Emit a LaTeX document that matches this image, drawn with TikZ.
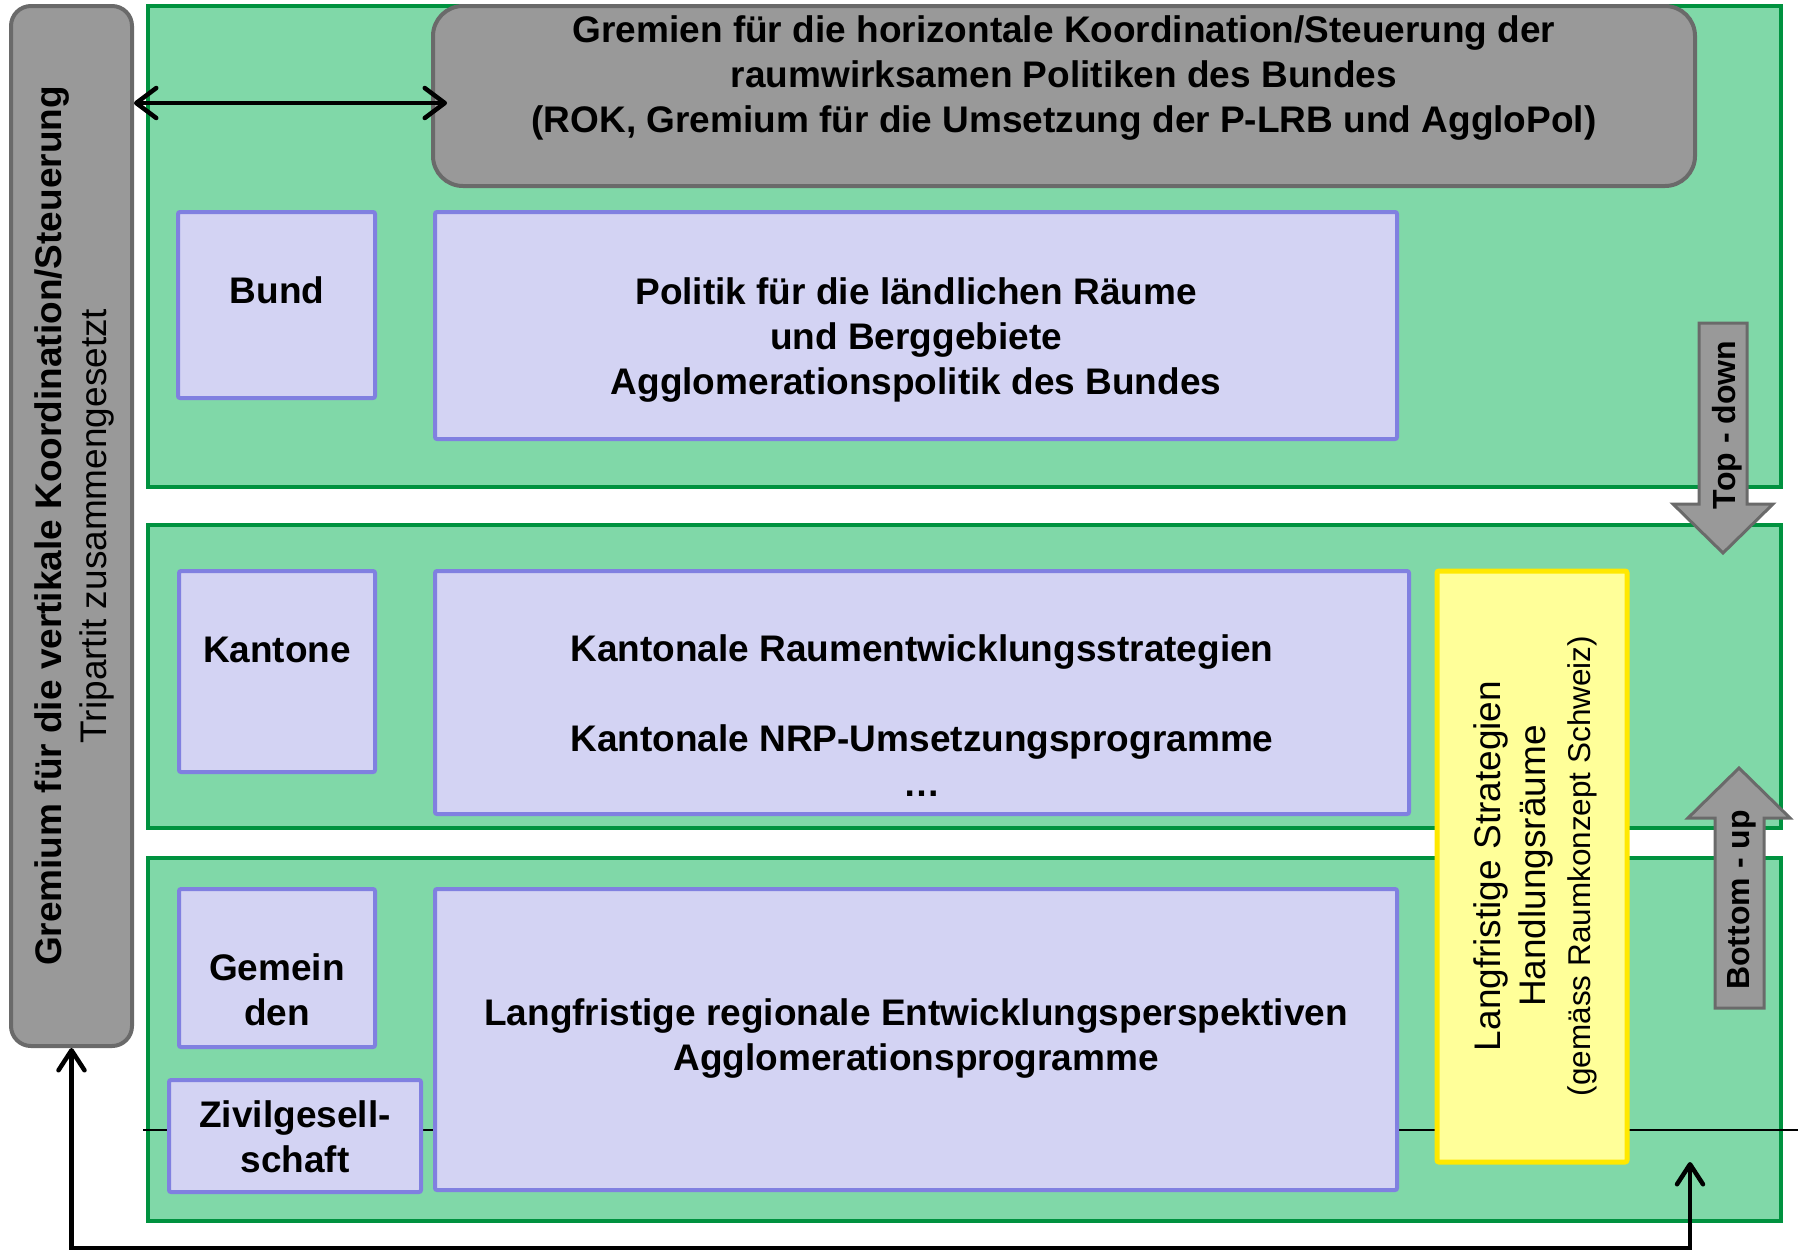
\documentclass[tikz,border=0pt]{standalone}
\usepackage{fontspec}
\setmainfont{Liberation Sans}
\usetikzlibrary{arrows.meta,calc}
\definecolor{gfill}{HTML}{80D8A8}
\definecolor{gline}{HTML}{00923F}
\definecolor{bfill}{HTML}{D3D3F3}
\definecolor{bline}{HTML}{8080E0}
\definecolor{grfill}{HTML}{999999}
\definecolor{grline}{HTML}{6A6A6A}
\definecolor{yfill}{HTML}{FFFF99}
\definecolor{yline}{HTML}{FFE800}
\definecolor{thin}{HTML}{1E6E3C}
\begin{document}
\begin{tikzpicture}[x=1pt,y=-1pt,
  greenbox/.style={draw=gline,fill=gfill,line width=3.5pt,inner sep=0pt},
  bluebox/.style={draw=bline,fill=bfill,line width=4pt,inner sep=0pt,rounded corners=2pt},
  graybox/.style={draw=grline,fill=grfill,line width=4pt,inner sep=0pt},
  yellowbox/.style={draw=yline,fill=yfill,line width=5pt,inner sep=0pt,rounded corners=2pt},
  bigarrow/.style={draw=grline,fill=grfill,line width=3pt,line join=miter},
  txt/.style={font=\fontsize{37}{45}\selectfont\bfseries,align=center,inner sep=0pt},
  rtxt/.style={font=\fontsize{37}{45}\selectfont,align=center,inner sep=0pt},
  atxt/.style={font=\fontsize{32}{38}\selectfont\bfseries,inner sep=0pt},
  conn/.style={line width=4.5pt,black}
]
\useasboundingbox (0,0) rectangle (1798,1251);
% green layers
\node[greenbox,minimum width=1633pt,minimum height=481pt] (g1) at (964.5,246.5) {};
\node[greenbox,minimum width=1633pt,minimum height=303pt] (g2) at (964.5,676.5) {};
\node[greenbox,minimum width=1633pt,minimum height=363pt] (g3) at (964.5,1039.5) {};
% thin horizontal line
\draw[thin,line width=1.5pt] (143,1130) -- (1798,1130);
% left gray box
\node[graybox,rounded corners=20pt,minimum width=121pt,minimum height=1040pt] (lgray) at (71.5,526) {};
\node[rtxt,rotate=90] (lgtext) at (74.5,526) {\bfseries Gremium für die vertikale Koordination/Steuerung\\\mdseries Tripartit zusammengesetzt};
% top gray box
\node[graybox,rounded corners=30pt,minimum width=1262pt,minimum height=180pt] (tgray) at (1064,96) {};
\node[txt] (tgtext) at (1064,78) {Gremien für die horizontale Koordination/Steuerung der\\raumwirksamen Politiken des Bundes\\(ROK, Gremium für die Umsetzung der P-LRB und AggloPol)};
% Bund row
\node[bluebox,minimum width=197pt,minimum height=186pt] (bund) at (276.5,305) {};
\node[txt] (bundt) at (277,290) {Bund};
\node[bluebox,minimum width=962pt,minimum height=227pt] (politik) at (916,325.5) {};
\node[txt] (politikt) at (916,340) {Politik für die ländlichen Räume\\und Berggebiete\\Agglomerationspolitik des Bundes};
% Kantone row
\node[bluebox,minimum width=196pt,minimum height=201pt] (kantone) at (277,671.5) {};
\node[txt] (kantonet) at (277,649.5) {Kantone};
\node[bluebox,minimum width=974pt,minimum height=243pt] (kant) at (922,692.5) {};
\node[txt] (kantt) at (922,716) {Kantonale Raumentwicklungsstrategien\\[45pt]Kantonale NRP-Umsetzungsprogramme\\…};
% Gemeinden row
\node[bluebox,minimum width=196pt,minimum height=158pt] (gem) at (277,968) {};
\node[txt] (gemt) at (277,989.5) {Gemein\\den};
\node[bluebox,minimum width=252pt,minimum height=112pt] (zivil) at (295,1136) {};
\node[txt] (zivilt) at (295,1136.5) {Zivilgesell-\\schaft};
\node[bluebox,minimum width=962pt,minimum height=301pt] (big3) at (916,1039.5) {};
\node[txt] (big3t) at (916,1038) {Langfristige regionale Entwicklungsperspektiven\\Agglomerationsprogramme};
% yellow box
\node[yellowbox,minimum width=190pt,minimum height=591pt] (yel) at (1532,866.5) {};
\node[rtxt,rotate=90] (yelt) at (1535,866) {Langfristige Strategien\\Handlungsräume\\{\fontsize{31.5}{38}\selectfont(gemäss Raumkonzept Schweiz)}};
% big arrows
\draw[bigarrow] (1699,323) -- (1747,323) -- (1747,504) -- (1773,504) -- (1723,553) -- (1673,504) -- (1699,504) -- cycle;
\node[atxt,rotate=90] (tdt) at (1727,425) {Top - down};
\draw[bigarrow] (1739,768) -- (1790,818) -- (1764,818) -- (1764,1008) -- (1715,1008) -- (1715,818) -- (1688,818) -- cycle;
\node[atxt,rotate=90] (but) at (1742,900) {Bottom - up};
% connectors
\coordinate (harr) at (0,103);
\coordinate (fb) at (1690,1162);
\coordinate (fbot) at (0,1248);
\draw[conn,{Straight Barb[length=20pt,width=30pt,round]}-{Straight Barb[length=20pt,width=30pt,round]}] (lgray.east |- harr) -- ($(tgray.west |- harr)+(16,0)$);
\draw[conn,{Straight Barb[length=20pt,width=26pt,round]}-{Straight Barb[length=20pt,width=26pt,round]}] (lgray.south) -- (lgray.south |- fbot) -| (fb);
\end{tikzpicture}
\end{document}
